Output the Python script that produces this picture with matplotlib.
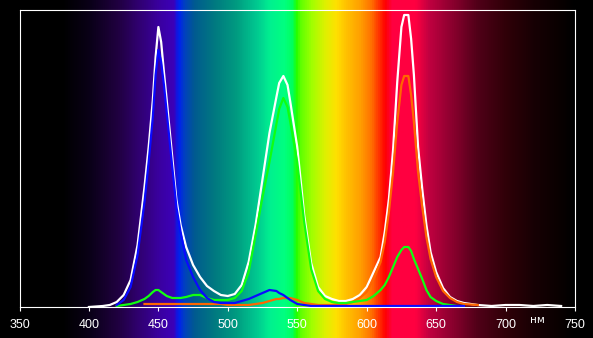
import numpy as np
import matplotlib
matplotlib.use("Agg")
import matplotlib.pyplot as plt
from matplotlib.colors import LinearSegmentedColormap

plt.rcParams['font.family'] = ['Liberation Sans', 'DejaVu Sans']

nan = np.nan

# wavelength grid, nm
wavelength = [400, 410, 415, 420, 425, 430, 435, 440,
              443, 446, 448, 450, 452, 454, 456,
              460, 463, 466, 470,
              475, 480, 485, 490, 495, 500, 505, 510, 515, 520,
              525, 530, 535, 537, 540, 543, 545, 550, 555, 560, 565, 570,
              575, 580, 585, 590, 595, 600, 605, 610,
              613, 616, 619, 622, 625, 627, 630, 632, 634, 637, 640, 643, 646,
              650, 655, 660, 665, 670,
              680, 690, 700, 710, 720, 730, 740]

# intensities (arbitrary units)
white = [0, 1, 2, 5, 12, 27, 62, 120,
         160, 207, 250, 280, 265, 235, 207,
         150, 107, 82, 60,
         42, 30, 21, 16, 12, 11, 13, 22, 45, 82,
         128, 174, 210, 224, 231, 222, 205, 160, 92, 44, 20, 11,
         8, 6, 6, 8, 12, 20, 35, 50,
         75, 108, 157, 225, 280, 292, 292, 268, 232, 160, 118, 82, 55,
         35, 19, 10, 6, 4,
         2, 1, 2, 2, 1, 2, 1]

blue = [nan, nan, nan, 2, 7, 20, 52, 105,
        145, 190, 232, 257, 245, 222, 195,
        140, 100, 75, 47,
        30, 17, 9, 5, 4, 4, 4, 6, 8, 11,
        14, 17, 16, 14, 12, 9, 7, 3, 2, 1, 1, 1,
        1, 1, 1, 1, 1, 1, 1, 1,
        1, 1, 1, 1, 1, 1, 1, 1, 1, 1, 1, 1, 1,
        1, 1, 1, 1, 1,
        nan, nan, nan, nan, nan, nan, nan]

green = [nan, nan, nan, 1, 2, 3, 5, 8,
         11, 15, 17, 17, 15, 13, 11,
         9, 9, 9, 10,
         12, 12, 9, 7, 7, 7, 9, 16, 35, 72,
         110, 145, 183, 198, 209, 200, 185, 145, 85, 38, 16, 8,
         5, 4, 4, 5, 6, 7, 11, 17,
         22, 30, 40, 50, 57, 60, 60, 56, 48, 38, 28, 17, 10,
         6, 3, 2, 1, 1,
         nan, nan, nan, nan, nan, nan, nan]

red = [nan, nan, nan, nan, nan, nan, nan, 3,
       3, 3, 3, 3, 3, 3, 3,
       3, 3, 3, 3,
       3, 3, 3, 3, 3, 2, 2, 2, 2, 3,
       4, 6, 8, 8, 9, 9, 9, 7, 4, 3, 2, 2,
       2, 3, 3, 5, 9, 15, 28, 45,
       65, 95, 135, 185, 222, 231, 231, 212, 185, 135, 100, 70, 48,
       30, 16, 9, 5, 3,
       2, nan, nan, nan, nan, nan, nan]

xticks = list(range(350, 751, 50))

# background spectrum colours
spectrum = [(350, "#000000"), (380, "#000000"), (400, "#0a0018"),
            (420, "#200040"), (435, "#300070"), (450, "#3a00a0"),
            (460, "#3c00b8"), (464, "#0020f0"), (468, "#0040c0"),
            (475, "#005a90"), (490, "#007a80"), (505, "#009a80"),
            (520, "#00c890"), (530, "#00f090"), (540, "#00ff80"),
            (546, "#00ff60"), (549, "#20ff00"), (552, "#60ff00"),
            (560, "#a0ff00"), (570, "#e0f000"), (578, "#ffe000"),
            (585, "#ffc000"), (595, "#ffa000"), (603, "#ff7000"),
            (609, "#ff3000"), (613, "#ff0000"), (618, "#ff0040"),
            (635, "#ff0040"), (645, "#c00040"), (660, "#900030"),
            (680, "#500018"), (700, "#300008"), (720, "#180004"),
            (740, "#080000"), (750, "#000000")]

W, H = 593, 338
left, right, bottom, top = 19.5, 575, 307, 10

fig = plt.figure(figsize=(W / 100, H / 100), dpi=100, facecolor="black")

bg = fig.add_axes([left / W, 0, (right - left) / W, 1])
cmap = LinearSegmentedColormap.from_list(
    "spec", [((w - 350) / 400, c) for w, c in spectrum])
bg.imshow(np.linspace(0, 1, 1000)[None, :], cmap=cmap, aspect="auto",
          extent=(350, 750, 0, 1), interpolation="bilinear")
bg.set_xlim(350, 750)
bg.set_axis_off()

ax = fig.add_axes([left / W, 1 - bottom / H, (right - left) / W, (bottom - top) / H])
ax.set_facecolor("none")
ax.plot(wavelength, white, color="white", lw=1.6)
ax.plot(wavelength, red, color="#ff6600", lw=1.6)
ax.plot(wavelength, green, color="#10ff10", lw=1.6)
ax.plot(wavelength, blue, color="#0a0aff", lw=1.6)

ax.set_xlim(350, 750)
ax.set_ylim(0, 297)
ax.set_xticks(xticks)
ax.set_yticks([])
ax.tick_params(axis="x", colors="white", length=3, width=0.8,
               labelsize=9, pad=6)
for sp in ax.spines.values():
    sp.set_color("white")
    sp.set_linewidth(0.8)

ax.text(723, -0.045, "нм", color="white", fontsize=7.5, ha="center",
        va="center", transform=ax.get_xaxis_transform(),
        family=["DejaVu Sans"])

fig.savefig("out.png", dpi=100, facecolor="black")
